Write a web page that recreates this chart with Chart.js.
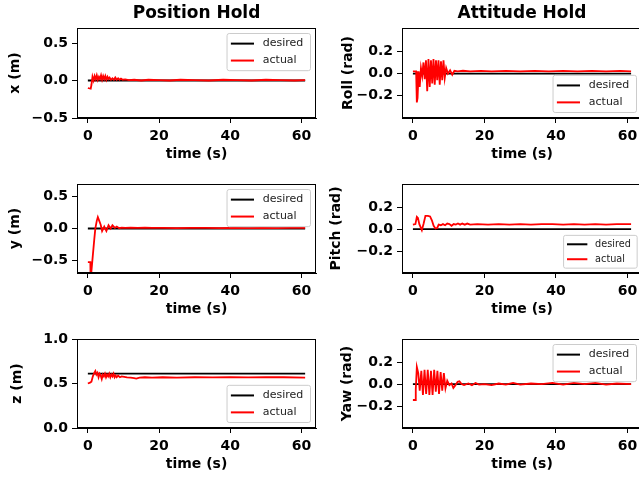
<!DOCTYPE html>
<html>
<head>
<meta charset="utf-8">
<script src="https://cdn.jsdelivr.net/npm/chart.js@4/dist/chart.umd.min.js"></script>
<style>
  html, body { margin: 0; padding: 0; background: #fff; overflow: hidden; width: 639px; height: 478px; }
  canvas { position: absolute; }
</style>
</head>
<body>
<canvas id="panelX"></canvas>
<canvas id="panelRoll"></canvas>
<canvas id="panelY"></canvas>
<canvas id="panelPitch"></canvas>
<canvas id="panelZ"></canvas>
<canvas id="panelYaw"></canvas>
<script>
// ---- tick labels ----
const timeTicks = [0, 20, 40, 60];
const posTicksXY = [-0.5, 0, 0.5];
const posTicksZ = [0, 0.5, 1];
const angleTicks = [-0.2, 0, 0.2];

// ---- desired set-points (constant over the run) ----
const desiredTime = [0, 61];
const desiredX = [0, 0];
const desiredY = [0, 0];
const desiredZ = [0.61, 0.61];
const desiredRoll = [0, 0];
const desiredPitch = [0, 0];
const desiredYaw = [0, 0];

// ---- measured position x ----
const timeX = [0, 0.8, 1.0, 1.3, 1.6, 1.9, 2.2, 2.5, 2.8, 3.1, 3.4, 3.7, 4.0, 4.3, 4.6, 4.9, 5.2, 5.5, 5.8, 6.1, 6.5, 6.9, 7.3, 7.7, 8.1, 8.5, 8.9, 9.3, 9.8, 10.5, 11.5, 13, 15, 17, 20, 23, 26, 30, 34, 38, 42, 46, 50, 54, 58, 61];
const actualX = [-0.1, -0.11, -0.06, 0.05, 0.0, 0.06, 0.02, 0.07, 0.01, 0.05, 0.02, 0.07, 0.01, 0.06, 0.02, 0.06, 0.01, 0.05, 0.02, 0.04, 0.01, 0.03, 0.01, 0.04, 0.01, 0.03, 0.01, 0.025, 0.01, 0.015, 0.005, 0.01, 0.0, 0.01, 0.005, 0.0, 0.01, 0.005, 0.0, 0.01, 0.005, 0.0, 0.01, 0.005, 0.0, 0.005];

// ---- measured position y ----
const timeY = [0, 0.7, 0.8, 1.0, 1.4, 1.8, 2.1, 2.5, 2.8, 3.2, 3.6, 4.0, 4.6, 5.2, 5.8, 6.4, 6.9, 7.6, 8.1, 8.8, 9.5, 10.5, 12, 14, 16, 18, 21, 25, 29, 33, 37, 41, 45, 49, 53, 57, 61];
const actualY = [-0.53, -0.53, -0.95, -0.67, -0.42, -0.17, 0.0, 0.12, 0.18, 0.12, 0.06, -0.04, 0.03, -0.04, 0.05, 0.0, 0.05, 0.01, 0.03, 0.005, 0.015, 0.01, 0.015, 0.01, 0.015, 0.01, 0.01, 0.005, 0.01, 0.01, 0.005, 0.01, 0.005, 0.01, 0.005, 0.01, 0.01];

// ---- measured position z ----
const timeZ = [0, 0.6, 1.0, 1.4, 1.8, 2.1, 2.4, 2.7, 3.0, 3.3, 3.6, 3.9, 4.2, 4.5, 4.8, 5.1, 5.4, 5.7, 6.0, 6.3, 6.6, 6.9, 7.2, 7.5, 7.8, 8.1, 8.5, 9.0, 9.5, 10.2, 11, 12, 13, 13.6, 14.5, 16, 18, 21, 25, 30, 35, 40, 45, 50, 55, 61];
const actualZ = [0.5, 0.51, 0.52, 0.58, 0.62, 0.64, 0.6, 0.62, 0.57, 0.61, 0.59, 0.55, 0.6, 0.58, 0.61, 0.57, 0.6, 0.58, 0.61, 0.57, 0.6, 0.58, 0.61, 0.57, 0.59, 0.57, 0.59, 0.57, 0.58, 0.575, 0.57, 0.565, 0.56, 0.555, 0.565, 0.57, 0.565, 0.57, 0.565, 0.57, 0.568, 0.572, 0.568, 0.57, 0.57, 0.567];

// ---- measured roll ----
const timeRoll = [0, 0.9, 1.1, 1.3, 1.6, 1.9, 2.25, 2.6, 2.95, 3.3, 3.65, 4.0, 4.35, 4.7, 5.05, 5.4, 5.75, 6.1, 6.45, 6.8, 7.15, 7.5, 7.85, 8.2, 8.55, 8.9, 9.3, 9.8, 10.4, 11.0, 11.6, 12.5, 14, 16, 19, 22, 26, 30, 34, 38, 42, 46, 50, 54, 58, 61];
const actualRoll = [0.02, 0.02, -0.26, -0.22, 0.02, -0.12, 0.05, -0.02, 0.1, -0.05, 0.12, -0.16, 0.13, -0.12, 0.12, -0.09, 0.13, -0.1, 0.12, -0.06, 0.12, -0.1, 0.11, -0.06, 0.12, -0.04, 0.05, 0.0, 0.03, -0.01, 0.025, 0.02, 0.025, 0.02, 0.025, 0.02, 0.025, 0.02, 0.025, 0.02, 0.025, 0.02, 0.025, 0.02, 0.025, 0.02];

// ---- measured pitch ----
const timePitch = [0, 0.7, 1.1, 1.4, 1.8, 2.5, 3.0, 3.5, 4.2, 4.8, 5.3, 5.8, 6.3, 6.8, 7.2, 7.8, 8.4, 9.0, 9.6, 10.2, 10.8, 11.4, 12.0, 12.6, 13.2, 13.8, 14.5, 15.2, 16, 18, 21, 24, 27, 30, 33, 36, 39, 42, 45, 48, 51, 54, 57, 61];
const actualPitch = [0.04, 0.045, 0.11, 0.1, 0.045, -0.01, 0.05, 0.12, 0.12, 0.115, 0.08, 0.03, 0.005, 0.01, 0.04, 0.035, 0.045, 0.035, 0.05, 0.045, 0.03, 0.045, 0.04, 0.05, 0.04, 0.05, 0.04, 0.05, 0.04, 0.045, 0.04, 0.045, 0.04, 0.045, 0.04, 0.045, 0.045, 0.04, 0.045, 0.04, 0.045, 0.04, 0.045, 0.045];

// ---- measured yaw ----
const timeYaw = [0, 0.6, 0.8, 1.1, 1.5, 1.9, 2.35, 2.8, 3.25, 3.7, 4.15, 4.6, 5.05, 5.5, 5.95, 6.4, 6.85, 7.3, 7.75, 8.2, 8.65, 9.1, 9.6, 10.2, 10.8, 11.3, 11.9, 12.5, 13.0, 13.6, 14.3, 15.5, 16.5, 17.5, 18.5, 20, 22, 24, 26, 28, 30, 33, 36, 39, 42, 45, 48, 51, 54, 57, 61];
const actualYaw = [-0.145, -0.145, -0.05, 0.155, 0.1, -0.06, 0.12, -0.1, 0.13, -0.09, 0.13, -0.1, 0.12, -0.1, 0.13, -0.07, 0.12, -0.09, 0.11, -0.06, 0.1, -0.04, 0.03, -0.01, 0.005, -0.035, -0.01, 0.02, 0.025, 0.0, -0.01, 0.005, -0.01, 0.01, -0.005, 0.0, -0.01, 0.005, -0.005, 0.01, -0.005, 0.005, 0.0, 0.01, -0.005, 0.01, 0.0, 0.01, -0.005, 0.005, 0.0];

Chart.defaults.font.family = '"DejaVu Sans", sans-serif';
Chart.defaults.color = '#000';

const toPoints = (ts, vs) => ts.map((t, i) => ({ x: t, y: vs[i] }));
const fmt = (v, digits) => {
  const s = Math.abs(v).toFixed(digits);
  return (v < 0 ? '\u2212' : '') + s;
};

// Full box outline around the plotting area (top and right spines included)
const frame = {
  id: 'frame',
  afterDatasetsDraw(chart) {
    const a = chart.chartArea, ctx = chart.ctx;
    ctx.save();
    ctx.strokeStyle = '#000';
    ctx.lineWidth = 1;
    ctx.strokeRect(Math.round(a.left) + 0.5, Math.round(a.top) + 0.5,
                   Math.round(a.right - a.left) - 1, Math.round(a.bottom - a.top) - 1);
    ctx.restore();
  }
};

// Boxed legend drawn inside the plotting area
const boxLegend = {
  id: 'boxLegend',
  afterDraw(chart, args, opts) {
    const ctx = chart.ctx, area = chart.chartArea;
    const fs = opts.fontSize;
    const items = chart.data.datasets;
    ctx.save();
    ctx.font = fs + 'px "DejaVu Sans"';
    const textW = Math.max(...items.map(d => ctx.measureText(d.label).width));
    const padL = 0.35 * fs, handle = 2.1 * fs, gap = 0.8 * fs, padR = 0.65 * fs;
    const padV = 0.4 * fs, rowH = 1.04 * fs, spacing = 0.5 * fs;
    const w = padL + handle + gap + textW + padR;
    const h = 2 * padV + items.length * rowH + (items.length - 1) * spacing;
    const inset = 0.5 * fs;
    const x = area.right - inset - w;
    const y = opts.corner === 'upper' ? area.top + inset : area.bottom - inset - h;
    ctx.beginPath();
    ctx.roundRect(x, y, w, h, 0.2 * fs);
    ctx.fillStyle = 'rgba(255,255,255,0.8)';
    ctx.fill();
    ctx.strokeStyle = '#cccccc';
    ctx.lineWidth = 1;
    ctx.stroke();
    items.forEach((d, i) => {
      const cy = y + padV + rowH / 2 + i * (rowH + spacing);
      ctx.beginPath();
      ctx.moveTo(x + padL, cy);
      ctx.lineTo(x + padL + handle, cy);
      ctx.strokeStyle = d.borderColor;
      ctx.lineWidth = 2;
      ctx.stroke();
      ctx.fillStyle = '#222';
      ctx.textBaseline = 'middle';
      ctx.textAlign = 'left';
      ctx.fillText(d.label, x + padL + handle + gap, cy);
    });
    ctx.restore();
  }
};

function panel(p) {
  const cv = document.getElementById(p.id);
  const canvasTop = p.area.t - p.head;
  const canvasH = p.area.b + 48 - canvasTop;
  cv.width = p.canvasW;
  cv.height = canvasH;
  cv.style.left = p.canvasL + 'px';
  cv.style.top = canvasTop + 'px';

  return new Chart(cv, {
    type: 'line',
    data: {
      datasets: [
        { label: 'desired', data: toPoints(desiredTime, p.desired), borderColor: '#000000',
          borderWidth: 1.8, pointRadius: 0, tension: 0, order: 2 },
        { label: 'actual', data: toPoints(p.time, p.actual), borderColor: '#ff0000',
          borderWidth: 1.8, pointRadius: 0, tension: 0, order: 1 }
      ]
    },
    options: {
      responsive: false,
      animation: false,
      events: [],
      layout: { padding: { left: 0, right: p.canvasL + p.canvasW - p.area.r, top: p.title ? 0 : p.head, bottom: 0 } },
      plugins: {
        legend: { display: false },
        tooltip: { enabled: false },
        title: p.title ? {
          display: true, text: p.title, fullSize: false,
          font: { size: 17, weight: 'bold' }, color: '#000',
          padding: { top: 3, bottom: p.head - 3 - 20.4 }
        } : { display: false },
        boxLegend: { corner: p.legendCorner, fontSize: p.legendFont }
      },
      scales: {
        x: {
          type: 'linear', position: 'bottom', min: -3.05, max: 64.05,
          afterBuildTicks: s => { s.ticks = timeTicks.map(v => ({ value: v })); },
          afterFit: s => { s.height = 48; },
          ticks: { font: { size: 14, weight: 'bold' }, color: '#000', padding: 5, maxRotation: 0, autoSkip: false,
                   callback: v => fmt(v, 0) },
          grid: { drawOnChartArea: false, drawTicks: true, tickLength: 5, tickColor: '#000', tickWidth: 1 },
          border: { display: true, color: '#000', width: 1 },
          title: { display: true, text: 'time (s)', font: { size: 14, weight: 'bold' }, color: '#000',
                   padding: { top: 0, bottom: 3.5 } }
        },
        y: {
          type: 'linear', position: 'left', min: p.yMin, max: p.yMax,
          afterBuildTicks: s => { s.ticks = p.yTicks.map(v => ({ value: v })); },
          afterFit: s => { s.width = p.area.l - p.canvasL; },
          ticks: { font: { size: 14, weight: 'bold' }, color: '#000', padding: 4, autoSkip: false,
                   callback: v => fmt(v, 1) },
          grid: { drawOnChartArea: false, drawTicks: true, tickLength: 5, tickColor: '#000', tickWidth: 1 },
          border: { display: true, color: '#000', width: 1 },
          title: { display: true, text: p.yLabel, font: { size: 14, weight: 'bold' }, color: '#000',
                   padding: { top: p.yLabelX - p.canvasL - 8.4, bottom: 0 } }
        }
      }
    },
    plugins: [frame, boxLegend]
  });
}

const leftCol = { canvasL: 0, canvasW: 320, l: 77, r: 316 };
const rightCol = { canvasL: 320, canvasW: 330, l: 402, r: 642 };
const rows = [{ t: 28, b: 118, head: 28 }, { t: 184, b: 273, head: 24 }, { t: 339, b: 428, head: 21 }];

function place(col, row) {
  return { canvasL: col.canvasL, canvasW: col.canvasW, head: row.head,
           area: { l: col.l, r: col.r, t: row.t, b: row.b } };
}

panel(Object.assign(place(leftCol, rows[0]), { id: 'panelX', title: 'Position Hold', yLabel: 'x (m)', yLabelX: 15,
  yMin: -0.5, yMax: 0.7, yTicks: posTicksXY, desired: desiredX, time: timeX, actual: actualX,
  legendCorner: 'upper', legendFont: 11 }));
panel(Object.assign(place(rightCol, rows[0]), { id: 'panelRoll', title: 'Attitude Hold', yLabel: 'Roll (rad)', yLabelX: 348,
  yMin: -0.4, yMax: 0.41, yTicks: angleTicks, desired: desiredRoll, time: timeRoll, actual: actualRoll,
  legendCorner: 'lower', legendFont: 11 }));
panel(Object.assign(place(leftCol, rows[1]), { id: 'panelY', yLabel: 'y (m)', yLabelX: 15,
  yMin: -0.7, yMax: 0.7, yTicks: posTicksXY, desired: desiredY, time: timeY, actual: actualY,
  legendCorner: 'upper', legendFont: 11 }));
panel(Object.assign(place(rightCol, rows[1]), { id: 'panelPitch', yLabel: 'Pitch (rad)', yLabelX: 336.5,
  yMin: -0.4, yMax: 0.41, yTicks: angleTicks, desired: desiredPitch, time: timePitch, actual: actualPitch,
  legendCorner: 'lower', legendFont: 9.7 }));
panel(Object.assign(place(leftCol, rows[2]), { id: 'panelZ', yLabel: 'z (m)', yLabelX: 17.5,
  yMin: 0, yMax: 1, yTicks: posTicksZ, desired: desiredZ, time: timeZ, actual: actualZ,
  legendCorner: 'lower', legendFont: 11 }));
panel(Object.assign(place(rightCol, rows[2]), { id: 'panelYaw', yLabel: 'Yaw (rad)', yLabelX: 347.5,
  yMin: -0.4, yMax: 0.41, yTicks: angleTicks, desired: desiredYaw, time: timeYaw, actual: actualYaw,
  legendCorner: 'upper', legendFont: 11 }));
</script>
</body>
</html>
